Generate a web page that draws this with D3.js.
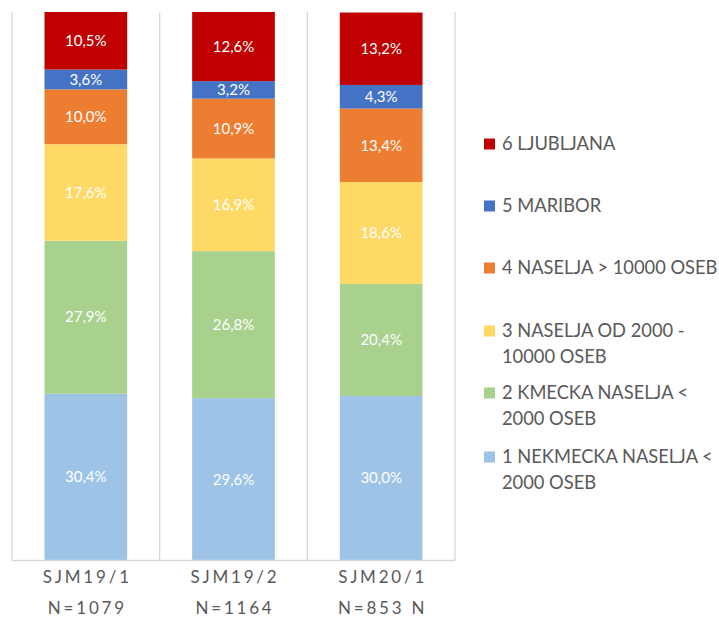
<!DOCTYPE html>
<html>
<head>
<meta charset="utf-8">
<script src="https://cdn.jsdelivr.net/npm/d3@7"></script>
<style>
  html, body { margin: 0; padding: 0; background: #fff; }
  svg { display: block; font-family: Lato, "Open Sans", sans-serif; }
</style>
</head>
<body>
<svg id="chart" width="719" height="617"></svg>
<script>
const categories = ["SJM19/1|N=1079", "SJM19/2|N=1164", "SJM20/1|N=853 N"];
const seriesNames = [
  "1 NEKMECKA NASELJA < 2000 OSEB",
  "2 KMECKA NASELJA < 2000 OSEB",
  "3 NASELJA OD 2000 - 10000 OSEB",
  "4 NASELJA > 10000 OSEB",
  "5 MARIBOR",
  "6 LJUBLJANA"
];
const legendLines = [
  ["1 NEKMECKA NASELJA <", "2000 OSEB"],
  ["2 KMECKA NASELJA <", "2000 OSEB"],
  ["3 NASELJA OD 2000 -", "10000 OSEB"],
  ["4 NASELJA > 10000 OSEB"],
  ["5 MARIBOR"],
  ["6 LJUBLJANA"]
];
const s1 = [30.4, 29.6, 30.0];
const s2 = [27.9, 26.8, 20.4];
const s3 = [17.6, 16.9, 18.6];
const s4 = [10.0, 10.9, 13.4];
const s5 = [3.6, 3.2, 4.3];
const s6 = [10.5, 12.6, 13.2];
const colors = ["#9DC3E6", "#A9D18E", "#FFD966", "#ED7D31", "#4472C4", "#C00000"];

const seriesVals = [s1, s2, s3, s4, s5, s6];
const rows = categories.map((c, i) => {
  const r = { cat: c };
  seriesNames.forEach((n, k) => r[n] = seriesVals[k][i]);
  return r;
});

const svg = d3.select("#chart");
const pLeft = 12, pRight = 455, pTop = 12, pBottom = 560.5;

const x = d3.scaleBand().domain(categories).range([pLeft, pRight]).paddingInner(0.44).paddingOuter(0.22);
const y = d3.scaleLinear().domain([0, 100]).range([pBottom, pTop]);

// grid separators
const sepX = [pLeft].concat(categories.map(c => x(c) + x.bandwidth() + x.step() * 0.22));
svg.append("g").selectAll("line").data(sepX).join("line")
  .attr("x1", d => d).attr("x2", d => d)
  .attr("y1", pTop).attr("y2", pBottom)
  .attr("stroke", "#d9d9d9").attr("stroke-width", 1.3);

const stack = d3.stack().keys(seriesNames)(rows);

const g = svg.append("g");
stack.forEach((layer, k) => {
  g.append("g").attr("fill", colors[k]).selectAll("rect").data(layer).join("rect")
    .attr("x", d => x(d.data.cat))
    .attr("width", x.bandwidth())
    .attr("y", d => y(d[1]))
    .attr("height", d => y(d[0]) - y(d[1]));
});

// labels
stack.forEach((layer, k) => {
  g.append("g").selectAll("text").data(layer).join("text")
    .attr("x", d => x(d.data.cat) + x.bandwidth() / 2)
    .attr("y", d => (y(d[0]) + y(d[1])) / 2)
    .attr("dy", "0.35em")
    .attr("text-anchor", "middle")
    .attr("fill", "#fff")
    .attr("font-size", 15)
    .text(d => (d[1] - d[0]).toFixed(1).replace(".", ",") + "%");
});

// bottom axis line
svg.append("line").attr("x1", pLeft).attr("x2", pRight).attr("y1", pBottom).attr("y2", pBottom)
  .attr("stroke", "#d9d9d9").attr("stroke-width", 1.3);

// category labels
categories.forEach(c => {
  const parts = c.split("|");
  const cx = x(c) + x.bandwidth() / 2;
  parts.forEach((p, i) => {
    svg.append("text")
      .attr("x", cx + 1.5).attr("y", 577 + i * 31)
      .attr("dy", "0.35em")
      .attr("text-anchor", "middle")
      .attr("fill", "#595959")
      .attr("font-size", 17)
      .attr("letter-spacing", "2.8px")
      .text(p);
  });
});

// legend (top to bottom: series 6..1)
const legendY = [144, 206, 268, 331, 393, 457];
const legOrder = [5, 4, 3, 2, 1, 0];
legOrder.forEach((k, i) => {
  const ly = legendY[i];
  svg.append("rect").attr("x", 484).attr("y", ly - 5.5).attr("width", 11).attr("height", 11).attr("fill", colors[k]);
  legendLines[k].forEach((t, j) => {
    svg.append("text")
      .attr("x", 502).attr("y", ly + j * 26)
      .attr("dy", "0.35em")
      .attr("fill", "#595959")
      .attr("font-size", 18.3)
      .text(t);
  });
});
</script>
</body>
</html>
